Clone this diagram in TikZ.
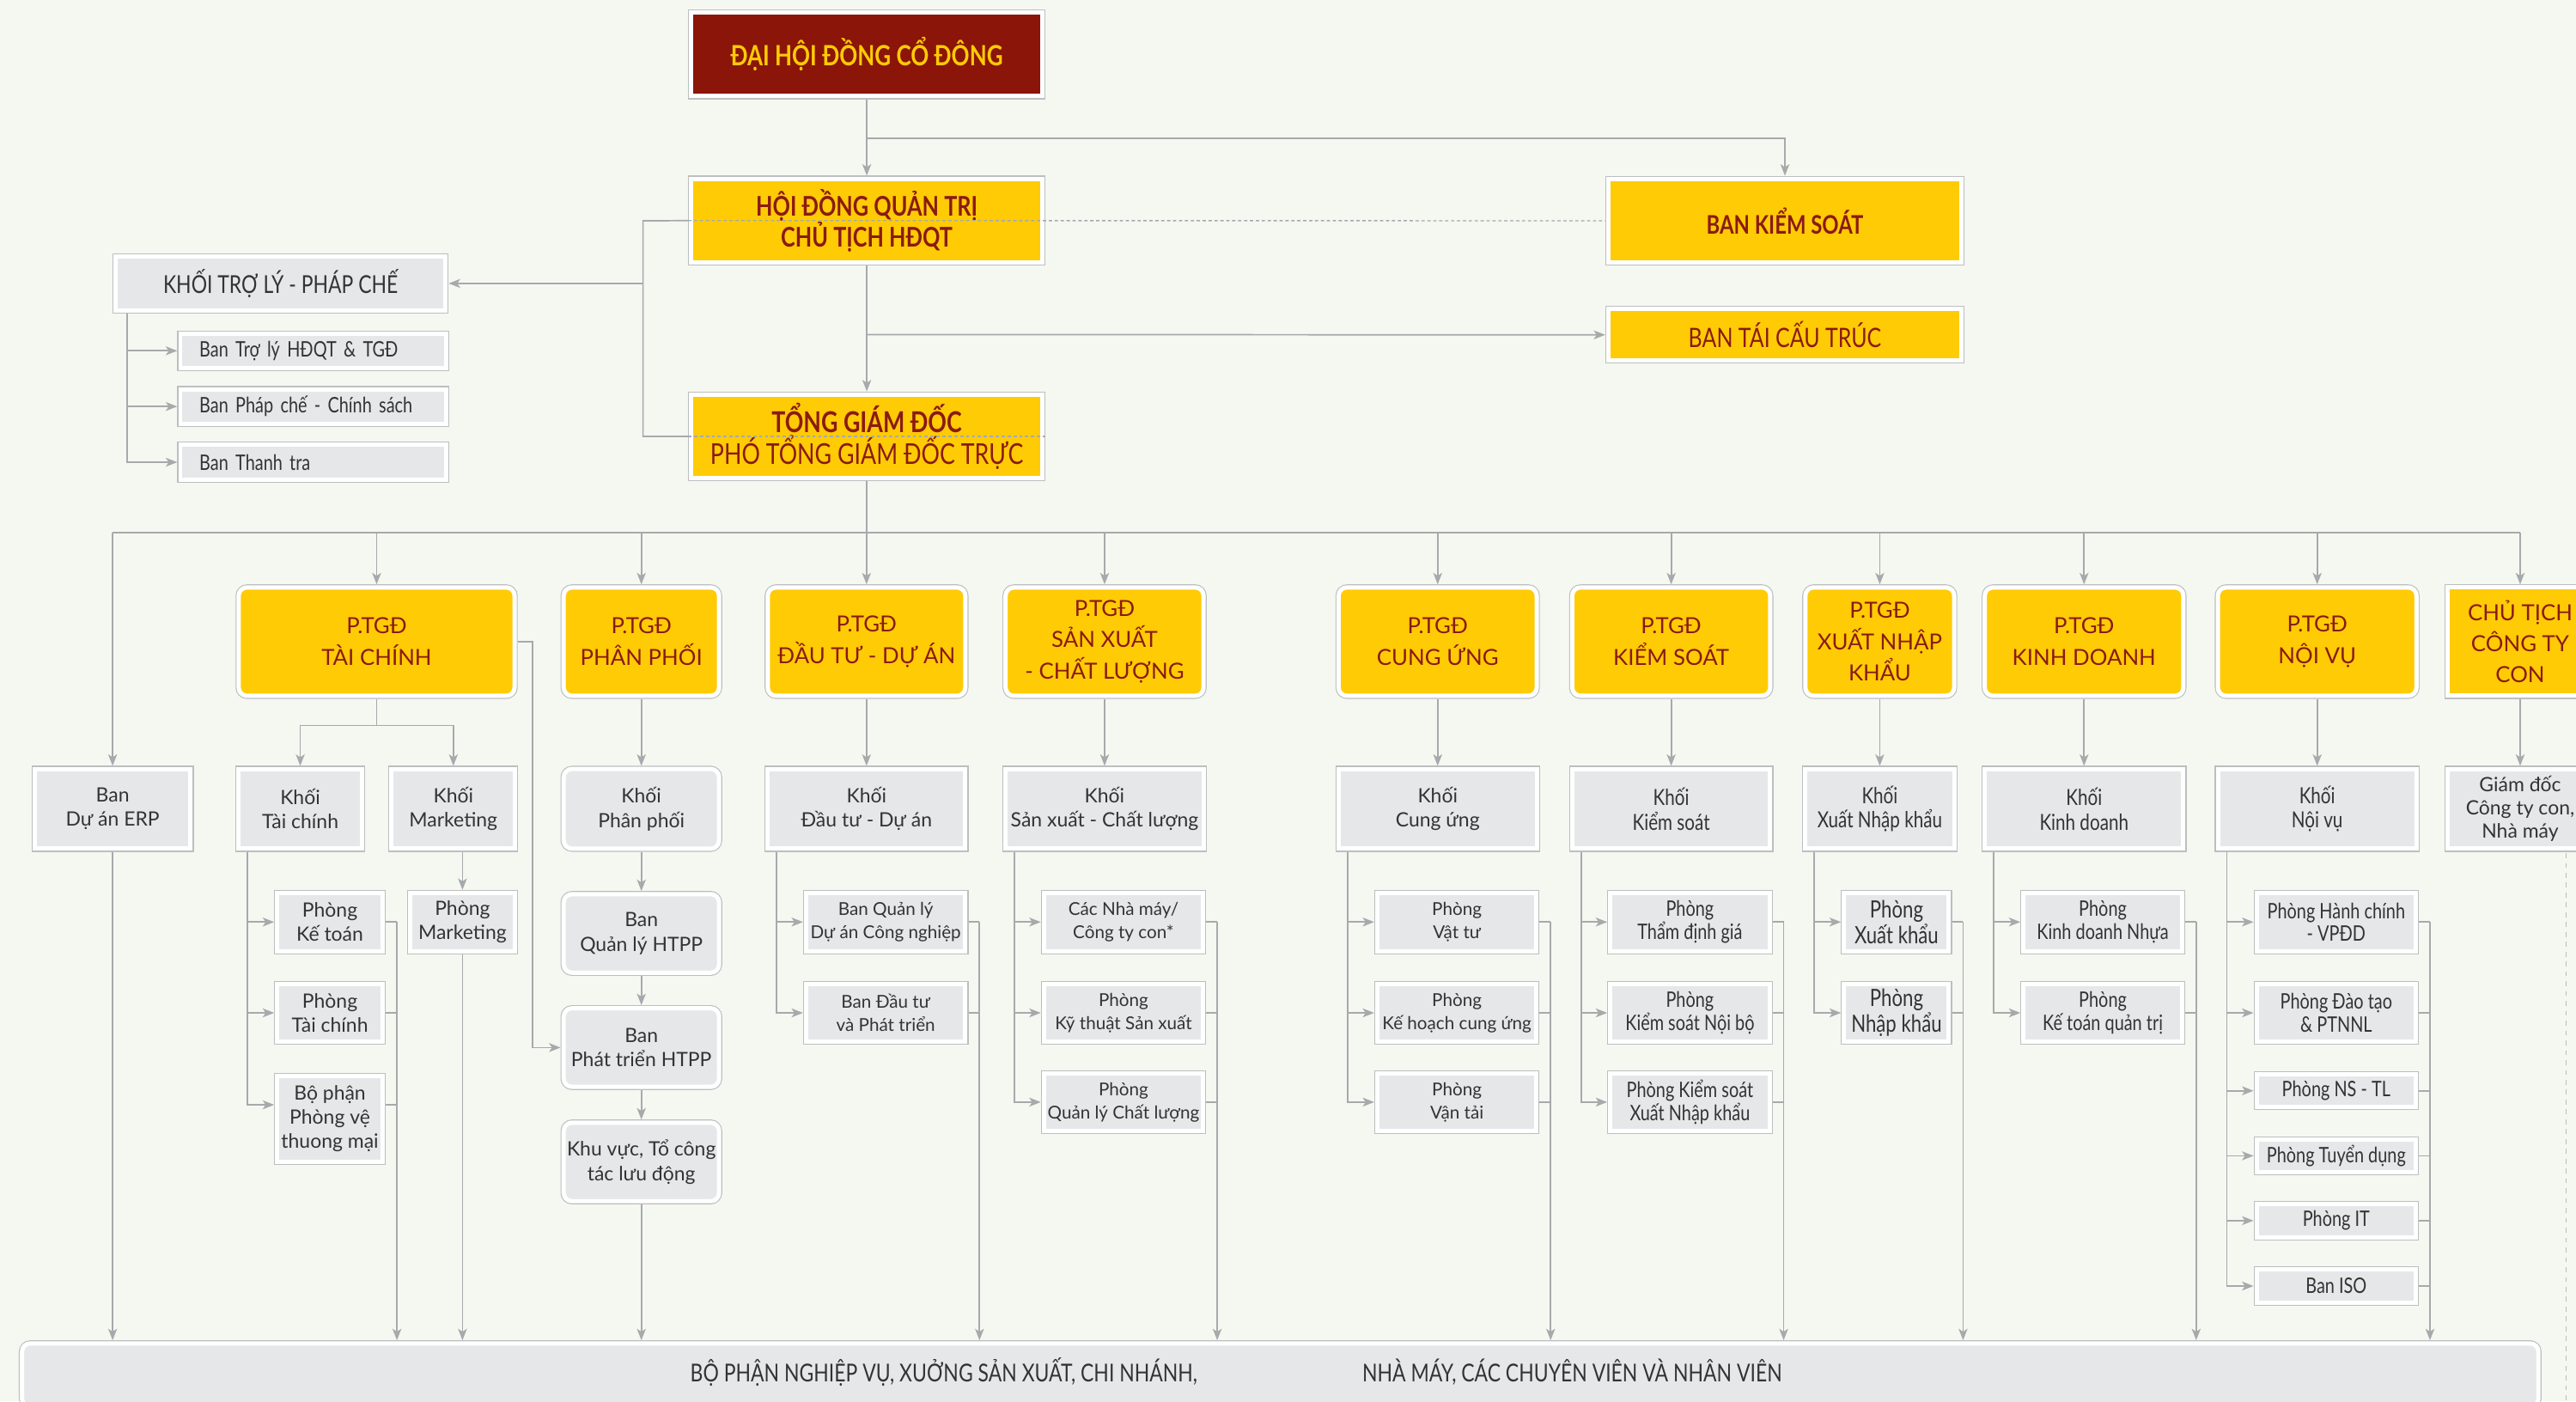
\documentclass[tikz,border=0pt]{standalone}
\usepackage{fontspec}
\setmainfont{Lato}
\newfontfamily\cf[FakeStretch=0.8]{Lato}
\usetikzlibrary{arrows.meta,calc}
\definecolor{bgc}{HTML}{F4F8F1}
\definecolor{gold}{HTML}{FFCB05}
\definecolor{dred}{HTML}{8B1A12}
\definecolor{hred}{HTML}{8A1508}
\definecolor{boxg}{HTML}{E6E7E8}
\definecolor{frameg}{HTML}{BCBEC0}
\definecolor{lineg}{HTML}{A7A9AC}
\definecolor{txtg}{HTML}{333333}
\pgfdeclarelayer{bg}
\pgfdeclarelayer{lines}
\pgfsetlayers{bg,lines,main}
\tikzset{
  frm/.style={draw=white, line width=2.6pt, preaction={draw=frameg, line width=3.8pt}, outer sep=1.9pt, inner sep=0pt, align=center},
  ybox/.style={frm, fill=gold, text=dred},
  gbox/.style={frm, fill=boxg, text=txtg},
  rnd/.style={rounded corners=5pt},
  sz/.style 2 args={minimum width=#1pt, minimum height=#2pt},
  ptgd/.style={ybox, rnd, minimum height=65.9pt, font=\fontsize{13.5}{19}\selectfont},
  khoi/.style={gbox, minimum height=48.5pt, font=\fontsize{12}{15}\selectfont},
  khoic/.style={khoi, font=\cf\fontsize{13.5}{15}\selectfont},
  subA/.style={gbox, minimum height=35.3pt, minimum width=64pt, font=\fontsize{12}{14.8}\selectfont},
  ppsub/.style={gbox, rnd, minimum width=94.6pt, minimum height=47.8pt, font=\fontsize{12}{15}\selectfont},
  subB/.style={gbox, minimum height=35.3pt, minimum width=96.9pt, font=\fontsize{10.8}{14}\selectfont},
  subC/.style={gbox, minimum height=35.3pt, minimum width=96.9pt, font=\cf\fontsize{13}{14}\selectfont},
  lsub/.style={gbox, minimum height=21pt, text width=138.6pt, inner xsep=11.6pt, align=left, font=\cf\fontsize{13}{15}\selectfont},
  conn/.style={draw=lineg, line width=0.9pt},
  arr/.style={conn, -{Stealth[length=7pt,width=5.4pt,inset=1.8pt]}},
  dline/.style={draw=lineg, line width=0.7pt, dash pattern=on 2pt off 1.6pt},
  dline2/.style={draw=lineg!80, line width=0.8pt, dash pattern=on 3pt off 3pt},
  bartext/.style={text=txtg, inner sep=0pt, font=\cf\fontsize{15}{18}\selectfont},
}
\newcommand{\subcol}[3]{%
  \coordinate (L) at ($(#1.south west)+(7.4,0)$);
  \foreach \q in {#2} \draw[arr] (L) |- (\q.west);
  \coordinate (R) at ($(#3.east)+(6.7,0)$);
  \foreach \q in {#2} \draw[conn] (\q.east) -| (R);
  \draw[arr] (R) -- (R |- bar.north);
}
\begin{document}
\begin{tikzpicture}[x=1pt,y=-1pt]
\useasboundingbox (0,0) rectangle (1568,853);
\begin{pgfonlayer}{bg}
\fill[bgc] (0,0) rectangle (1568,853);
\end{pgfonlayer}

% top
\node[frm, fill=hred, text=gold, sz={213.8}{51}, font=\cf\bfseries\fontsize{17}{20}\selectfont] (dh) at (527.6,33) {ĐẠI HỘI ĐỒNG CỔ ĐÔNG};
\node[ybox, sz={213.8}{50.9}, font=\cf\bfseries\fontsize{16.5}{18.6}\selectfont] (hd) at (527.6,134.25) {HỘI ĐỒNG QUẢN TRỊ\\CHỦ TỊCH HĐQT};
\node[ybox, sz={213.8}{51}, font=\cf\fontsize{17.5}{19.7}\selectfont] (tgd) at (527.6,265.6) {\textbf{TỔNG GIÁM ĐỐC}\\PHÓ TỔNG GIÁM ĐỐC TRỰC};
\node[ybox, sz={214.9}{51}, font=\cf\bfseries\fontsize{15.6}{18}\selectfont] (bks) at (1086.45,134.35) {BAN KIỂM SOÁT};
\node[ybox, sz={214.9}{31.4}, font=\cf\fontsize{16.3}{18}\selectfont] (btct) at (1086.45,203.8) {BAN TÁI CẤU TRÚC};
\node[gbox, sz={200.8}{32.8}, font=\cf\fontsize{15}{18}\selectfont] (ktl) at (170.8,172.5) {KHỐI TRỢ LÝ - PHÁP CHẾ};
\node[lsub] (btl) at (190.7,213.5) {Ban Trợ lý HĐQT \& TGĐ};
\node[lsub] (bpc) at (190.7,247.4) {Ban Pháp chế - Chính sách};
\node[lsub] (btt) at (190.7,281.3) {Ban Thanh tra};

% P.TGD row
\node[ptgd, minimum width=167.9pt] (ptc) at (229.25,390.5) {P.TGĐ\\TÀI CHÍNH};
\node[ptgd, minimum width=94.6pt] (ppp) at (390.4,390.5) {P.TGĐ\\PHÂN PHỐI};
\node[ptgd, minimum width=120.3pt] (pdt) at (527.45,390.5) {P.TGĐ\\ĐẦU TƯ - DỰ ÁN};
\node[ptgd, minimum width=120.5pt] (psx) at (672.35,390.5) {P.TGĐ\\SẢN XUẤT\\- CHẤT LƯỢNG};
\node[ptgd, minimum width=120.6pt] (pcu) at (875.1,390.5) {P.TGĐ\\CUNG ỨNG};
\node[ptgd, minimum width=120.5pt] (pks) at (1017.25,390.5) {P.TGĐ\\KIỂM SOÁT};
\node[ptgd, minimum width=90.6pt] (pxnk) at (1144.2,390.5) {P.TGĐ\\XUẤT NHẬP\\KHẨU};
\node[ptgd, minimum width=120.9pt] (pkd) at (1268.55,390.5) {P.TGĐ\\KINH DOANH};
\node[ptgd, minimum width=120.9pt] (pnv) at (1410.45,390.5) {P.TGĐ\\NỘI VỤ};
\node[ptgd, sharp corners, minimum width=88pt] (pct) at (1534,390.5) {CHỦ TỊCH\\CÔNG TY\\CON};

% Khoi row
\node[khoi, minimum width=94.9pt] (erp) at (68.55,492.25) {Ban\\Dự án ERP};
\node[khoi, minimum width=74.9pt] (ktc) at (182.75,492.25) {Khối\\Tài chính};
\node[khoi, minimum width=75.1pt] (kmk) at (275.95,492.25) {Khối\\Marketing};
\node[khoi, rnd, minimum width=94.6pt] (kpp) at (390.4,492.25) {Khối\\Phân phối};
\node[khoi, minimum width=120.3pt] (kdt) at (527.45,492.25) {Khối\\Đầu tư - Dự án};
\node[khoi, minimum width=120.5pt] (ksx) at (672.35,492.25) {Khối\\Sản xuất - Chất lượng};
\node[khoi, minimum width=120.6pt] (kcu) at (875.1,492.25) {Khối\\Cung ứng};
\node[khoic, minimum width=120.5pt] (kks) at (1017.25,492.25) {Khối\\Kiểm soát};
\node[khoic, minimum width=90.6pt] (kxnk) at (1144.2,492.25) {Khối\\Xuất Nhập khẩu};
\node[khoic, minimum width=120.9pt] (kkd) at (1268.55,492.25) {Khối\\Kinh doanh};
\node[khoic, minimum width=120.9pt] (knv) at (1410.45,492.25) {Khối\\Nội vụ};
\node[khoi, minimum width=88pt, font=\fontsize{12}{14}\selectfont] (gd) at (1534,492.25) {Giám đốc\\Công ty con,\\Nhà máy};

% TC / Marketing subs
\node[subA] (pkt) at (200.8,561.15) {Phòng\\Kế toán};
\node[subA] (ptcp) at (200.8,616.45) {Phòng\\Tài chính};
\node[subA, minimum height=52.1pt] (bpv) at (200.8,680.85) {Bộ phận\\Phòng vệ\\thuong mại};
\node[subA] (pmk) at (281.5,561.15) {Phòng\\Marketing};

% PP subs
\node[ppsub] (bql) at (390.4,568.1) {Ban\\Quản lý HTPP};
\node[ppsub] (bph) at (390.4,637.55) {Ban\\Phát triển HTPP};
\node[ppsub] (kvt) at (390.4,707.15) {Khu vực, Tổ công\\tác lưu động};

% DT
\node[subB] (bqlda) at (539.15,561.15) {Ban Quản lý\\Dự án Công nghiệp};
\node[subB] (bdtpt) at (539.15,616.45) {Ban Đầu tư\\và Phát triển};
% SX
\node[subB] (nm) at (683.85,561.15) {Các Nhà máy/\\Công ty con*};
\node[subB] (pkts) at (683.85,616.45) {Phòng\\Kỹ thuật Sản xuất};
\node[subB] (pqlcl) at (683.85,670.75) {Phòng\\Quản lý Chất lượng};
% CU
\node[subB] (pvt) at (886.8,561.15) {Phòng\\Vật tư};
\node[subB] (pkhcu) at (886.8,616.45) {Phòng\\Kế hoạch cung ứng};
\node[subB] (pvtai) at (886.8,670.75) {Phòng\\Vận tải};
% KS
\node[subC] (ptdg) at (1028.65,561.15) {Phòng\\Thẩm định giá};
\node[subC] (pksnb) at (1028.65,616.45) {Phòng\\Kiểm soát Nội bộ};
\node[subC] (pksxnk) at (1028.65,670.75) {Phòng Kiểm soát\\Xuất Nhập khẩu};
% XNK
\node[subC, minimum width=63.8pt, font=\cf\fontsize{14.5}{14.5}\selectfont] (pxk) at (1154.4,561.15) {Phòng\\Xuất khẩu};
\node[subC, minimum width=63.8pt, font=\cf\fontsize{14.5}{14.5}\selectfont] (pnk) at (1154.4,616.45) {Phòng\\Nhập khẩu};
% KD
\node[subC, minimum width=96.5pt] (pkdn) at (1279.95,561.15) {Phòng\\Kinh doanh Nhựa};
\node[subC, minimum width=96.5pt] (pktqt) at (1279.95,616.45) {Phòng\\Kế toán quản trị};
% NV
\node[subC] (phc) at (1422.05,561.15) {Phòng Hành chính\\- VPĐD};
\node[subC] (pdt2) at (1422.05,616.45) {Phòng Đào tạo\\\& PTNNL};
\node[subC, minimum height=20pt] (pns) at (1422.05,663.85) {Phòng NS - TL};
\node[subC, minimum height=20pt] (ptd) at (1422.05,703.45) {Phòng Tuyển dụng};
\node[subC, minimum height=20pt] (pit) at (1422.05,742.9) {Phòng IT};
\node[subC, minimum height=20pt] (biso) at (1422.05,782.7) {Ban ISO};

% bottom bar
\node[gbox, rounded corners=5pt, sz={1531.7}{38.5}] (bar) at (779.25,836.85) {};
\node[bartext] (bt1) at (574.5,835) {BỘ PHẬN NGHIỆP VỤ, XUỞNG SẢN XUẤT, CHI NHÁNH,};
\node[bartext] (bt2) at (957,835) {NHÀ MÁY, CÁC CHUYÊN VIÊN VÀ NHÂN VIÊN};

% connectors
\begin{pgfonlayer}{lines}
\draw[arr] (dh.south) -- (hd.north);
\coordinate (j1) at (527.6,84.3);
\draw[arr] (j1) -| (bks.north);
\draw[arr] (hd.south) -- (tgd.north);
\coordinate (j2) at (527.6,203.6);
\draw[arr] (j2) -- (btct.west);
\coordinate (lb) at (391.4,134.4);
\draw[conn] (hd.west) -- (lb) -- (lb |- tgd.west) -- (tgd.west);
\draw[arr] (lb |- ktl.east) -- (ktl.east);
\coordinate (kl) at ($(ktl.south west)+(8.7,0)$);
\foreach \q in {btl,bpc,btt} \draw[arr] (kl) |- (\q.west);

\coordinate (busL) at (68.55,324);
\coordinate (busR) at (1534,324);
\draw[conn] (tgd.south) -- (tgd.south |- busL);
\draw[conn] (busL) -- (busR);
\draw[arr] (busL) -- (erp.north);
\foreach \q in {ptc,ppp,pdt,psx,pcu,pks,pxnk,pkd,pnv,pct} \draw[arr] (\q.north |- busL) -- (\q.north);
\foreach \a/\b in {ppp/kpp,pdt/kdt,psx/ksx,pcu/kcu,pks/kks,pxnk/kxnk,pkd/kkd,pnv/knv,pct/gd} \draw[arr] (\a.south) -- (\b.north);

% TC
\coordinate (tcj) at (229.25,441.5);
\draw[conn] (ptc.south) -- (tcj);
\draw[arr] (tcj) -| (ktc.north);
\draw[arr] (tcj) -| (kmk.north);
\coordinate (tcl) at ($(ktc.south west)+(7.3,0)$);
\draw[arr] (tcl) |- (pkt.west);
\draw[arr] (tcl) |- (ptcp.west);
\draw[arr] (tcl) |- ($(bpv.west)+(0,-8.45)$);
\coordinate (tcr) at ($(pkt.east)+(6.9,0)$);
\draw[conn] (pkt.east) -- (tcr);
\draw[conn] (ptcp.east) -| (tcr);
\draw[conn] ($(bpv.east)+(0,-8.45)$) -| (tcr);
\draw[arr] (tcr) -- (tcr |- bar.north);
\draw[arr] (pmk.north |- kmk.south) -- (pmk.north);
\draw[arr] (pmk.south) -- (pmk.south |- bar.north);
\draw[arr] (erp.south) -- (erp.south |- bar.north);
\draw[arr] (ptc.east) -- ++(9,0) |- (bph.west);

% PP
\draw[arr] (kpp.south) -- (bql.north);
\draw[arr] (bql.south) -- (bph.north);
\draw[arr] (bph.south) -- (kvt.north);
\draw[arr] (kvt.south) -- (kvt.south |- bar.north);

\subcol{kdt}{bqlda,bdtpt}{bqlda}
\subcol{ksx}{nm,pkts,pqlcl}{nm}
\subcol{kcu}{pvt,pkhcu,pvtai}{pvt}
\subcol{kks}{ptdg,pksnb,pksxnk}{ptdg}
\subcol{kxnk}{pxk,pnk}{pxk}
\subcol{kkd}{pkdn,pktqt}{pkdn}
\subcol{knv}{phc,pdt2,pns,ptd,pit,biso}{phc}

\coordinate (gdd) at (1561.9,519.2);
\draw[dline2] (gdd) -- ++(0,340);
\end{pgfonlayer}

\draw[dline] (hd.west) -- (bks.west);
\draw[dline] (tgd.west) -- (tgd.east);
\end{tikzpicture}
\end{document}
